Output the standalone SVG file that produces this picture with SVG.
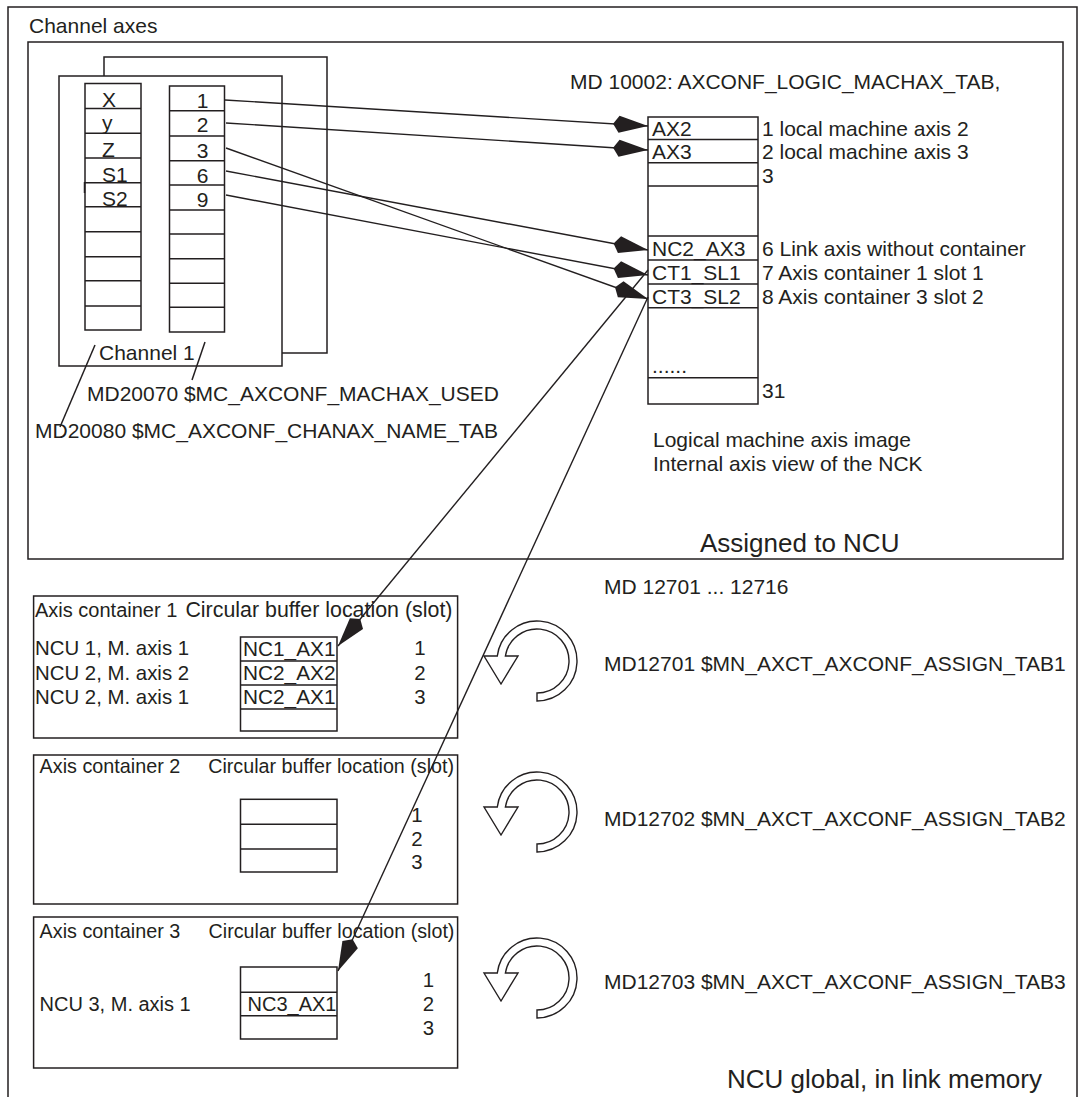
<svg xmlns="http://www.w3.org/2000/svg" width="1079" height="1097" viewBox="0 0 1079 1097">
<defs>
<style>
.ln{fill:none;stroke:#231f20;stroke-width:1.5}
.bx{fill:#fff;stroke:#231f20;stroke-width:1.5}
.cn{fill:none;stroke:#231f20;stroke-width:1.4}
text{font-family:"Liberation Sans",Arial,sans-serif;fill:#231f20;font-size:21px}
.c{font-size:20.4px}
.h{font-size:19.8px}
.big{font-size:26px}
.mid{text-anchor:middle}
.end{text-anchor:end}
.rot{fill:#fff;stroke:#231f20;stroke-width:1.4}
</style>
<marker id="ah" viewBox="-36 -10 37 20" refX="0" refY="0" markerWidth="37" markerHeight="20" markerUnits="userSpaceOnUse" orient="auto">
<path d="M0,0 L-29,-8.5 L-35,0 L-29,8.5 Z" fill="#231f20"/>
</marker>
<path id="rot" d="M0,40 A40,40 0 1 0 -39.7,-5 L-53,-5 L-36,23 L-19,-5 L-31.6,-5 A32,32 0 1 1 0,32 Z"/>
</defs>

<g id="frame">
<rect x="8" y="7" width="1069" height="1100" class="ln"/>
<text x="29" y="33">Channel axes</text>
</g>

<g id="ncu-frame">
<rect x="28" y="42" width="1035" height="517" class="ln"/>
<text x="700" y="552" class="big">Assigned to NCU</text>
</g>

<g id="channel1">
<path d="M104,76 V57 H327 V353 H282" class="ln"/>
<rect x="59" y="76" width="223" height="290" class="bx"/>
<text x="99" y="360">Channel 1</text>
<line x1="95" y1="345" x2="60" y2="427" class="ln"/>
<line x1="205" y1="342" x2="192" y2="380" class="ln"/>
</g>

<g id="chanax-names">
<rect x="85" y="83.5" width="56" height="246.5" class="bx"/>
<path d="M85,108.5 H141 M85,133.3 H141 M85,158 H141 M85,182.7 H141 M85,206.7 H141 M85,231.7 H141 M85,256.7 H141 M85,280.7 H141 M85,306 H141" class="ln"/>
<line x1="84.5" y1="182" x2="84.5" y2="193" class="ln"/>
<text x="102" y="107">X</text>
<text x="102" y="130">y</text>
<text x="102" y="157">Z</text>
<text x="102" y="182">S1</text>
<text x="102" y="206">S2</text>
</g>

<g id="machax-used">
<rect x="169.5" y="86" width="55" height="246" class="bx"/>
<path d="M169.5,110.7 H224.5 M169.5,136 H224.5 M169.5,160.7 H224.5 M169.5,185 H224.5 M169.5,210 H224.5 M169.5,234 H224.5 M169.5,258.7 H224.5 M169.5,283.3 H224.5 M169.5,307.3 H224.5" class="ln"/>
<text x="208.5" y="107.5" class="end">1</text>
<text x="208.5" y="132" class="end">2</text>
<text x="208.5" y="157.5" class="end">3</text>
<text x="208.5" y="183" class="end">6</text>
<text x="208.5" y="207" class="end">9</text>
</g>

<g id="md-labels">
<text x="87" y="401">MD20070 $MC_AXCONF_MACHAX_USED</text>
<text x="35" y="438">MD20080 $MC_AXCONF_CHANAX_NAME_TAB</text>
<text x="570" y="89">MD 10002: AXCONF_LOGIC_MACHAX_TAB,</text>
</g>

<g id="logic-machax-table">
<rect x="648" y="117" width="110" height="287" class="bx"/>
<path d="M648,139.5 H758 M648,162.7 H758 M648,186 H758 M648,236 H758 M648,260 H758 M648,284 H758 M648,307.7 H758 M648,377.7 H758" class="ln"/>
<text x="652" y="136">AX2</text>
<text x="652" y="159">AX3</text>
<text x="652" y="256">NC2_AX3</text>
<text x="652" y="280">CT1_SL1</text>
<text x="652" y="304">CT3_SL2</text>
<text x="652" y="373">......</text>
<text x="762" y="136">1 local machine axis 2</text>
<text x="762" y="159">2 local machine axis 3</text>
<text x="762" y="183">3</text>
<text x="762" y="256">6 Link axis without container</text>
<text x="762" y="280">7 Axis container 1 slot 1</text>
<text x="762" y="304">8 Axis container 3 slot 2</text>
<text x="762" y="398">31</text>
<text x="653" y="447">Logical machine axis image</text>
<text x="653" y="471">Internal axis view of the NCK</text>
</g>

<g id="container1">
<rect x="33.6" y="596" width="424" height="142" class="bx"/>
<text x="35" y="617" style="font-size:20px">Axis container 1</text>
<text x="185.4" y="617" style="font-size:21.4px">Circular buffer location (slot)</text>
<text x="35" y="655" class="c">NCU 1, M. axis 1</text>
<text x="35" y="680" class="c">NCU 2, M. axis 2</text>
<text x="35" y="704" class="c">NCU 2, M. axis 1</text>
<rect x="240.5" y="637" width="96.5" height="94" class="bx"/>
<path d="M240.5,661 H337 M240.5,685 H337 M240.5,709 H337" class="ln"/>
<text x="243" y="656" style="font-size:20.8px">NC1_AX1</text>
<text x="243" y="680" style="font-size:20.8px">NC2_AX2</text>
<text x="243" y="704" style="font-size:20.8px">NC2_AX1</text>
<text x="420" y="655" class="c mid">1</text>
<text x="420" y="680" class="c mid">2</text>
<text x="420" y="704" class="c mid">3</text>
</g>

<g id="container2">
<rect x="33.6" y="755" width="424" height="149" class="bx"/>
<text x="39.6" y="773" class="h">Axis container 2</text>
<text x="208.2" y="773" style="font-size:19.7px">Circular buffer location (slot)</text>
<rect x="240.5" y="799.3" width="96.5" height="72.7" class="bx"/>
<path d="M240.5,824.3 H337 M240.5,849 H337" class="ln"/>
<text x="417" y="822" class="c mid">1</text>
<text x="417" y="846" class="c mid">2</text>
<text x="417" y="869" class="c mid">3</text>
</g>

<g id="container3">
<rect x="33.6" y="917" width="424" height="151" class="bx"/>
<text x="39.6" y="938" class="h">Axis container 3</text>
<text x="208.6" y="938" style="font-size:19.7px">Circular buffer location (slot)</text>
<text x="39.6" y="1011" style="font-size:20px">NCU 3, M. axis 1</text>
<rect x="240.5" y="967" width="96.5" height="72" class="bx"/>
<path d="M240.5,992.3 H337 M240.5,1015.7 H337" class="ln"/>
<text x="247.5" y="1011" style="font-size:20px">NC3_AX1</text>
<text x="428.5" y="987" class="c mid">1</text>
<text x="428.5" y="1011" class="c mid">2</text>
<text x="428.5" y="1035" class="c mid">3</text>
</g>

<g id="rotation">
<use href="#rot" x="537" y="661" class="rot"/>
<use href="#rot" x="537" y="812" class="rot"/>
<use href="#rot" x="537" y="978" class="rot"/>
<text x="604" y="594">MD 12701 ... 12716</text>
<text x="604" y="671">MD12701 $MN_AXCT_AXCONF_ASSIGN_TAB1</text>
<text x="604" y="826">MD12702 $MN_AXCT_AXCONF_ASSIGN_TAB2</text>
<text x="604" y="989">MD12703 $MN_AXCT_AXCONF_ASSIGN_TAB3</text>
<text x="727" y="1088" class="big">NCU global, in link memory</text>
</g>

<g id="connectors">
<line x1="225" y1="100" x2="648" y2="126" class="cn" marker-end="url(#ah)"/>
<line x1="226" y1="123" x2="648" y2="150" class="cn" marker-end="url(#ah)"/>
<line x1="226" y1="148" x2="648" y2="299" class="cn" marker-end="url(#ah)"/>
<line x1="226" y1="171" x2="648" y2="250" class="cn" marker-end="url(#ah)"/>
<line x1="226" y1="195" x2="648" y2="275" class="cn" marker-end="url(#ah)"/>
<line x1="648" y1="270" x2="338" y2="646" class="cn" marker-end="url(#ah)"/>
<line x1="648" y1="297" x2="338" y2="971" class="cn" marker-end="url(#ah)"/>
</g>
</svg>
